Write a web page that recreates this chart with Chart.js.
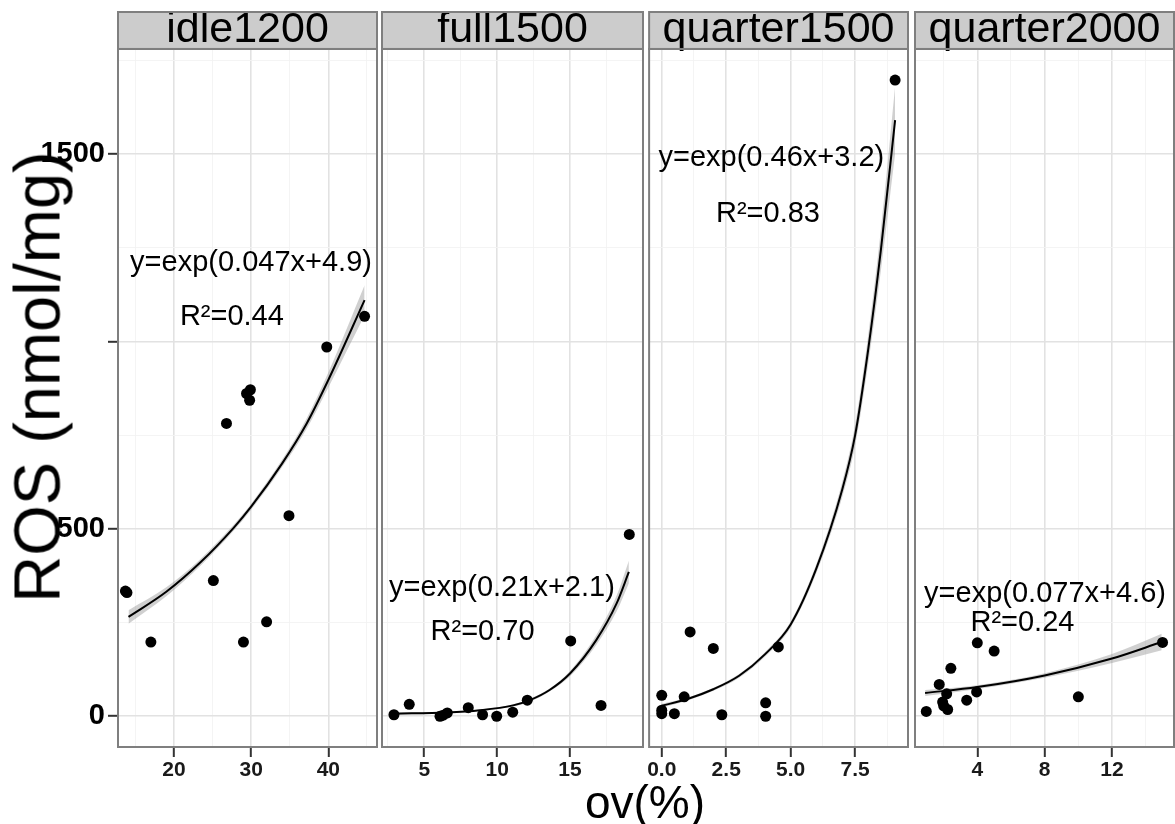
<!DOCTYPE html>
<html lang="en">
<head>
<meta charset="UTF-8" />
<title>ROS vs ov(%)</title>
<script src="https://cdn.jsdelivr.net/npm/chart.js"></script>
<style>
  body {
    margin: 0;
    background: #fff;
    font-family: 'Liberation Sans', Arial, sans-serif;
  }

  #wrap {
    position: relative;
    width: 1175px;
    height: 824px;
    overflow: hidden;
    background: #fff;
  }

  #wrap canvas {
    position: absolute;
    top: 0;
  }

  .axis-title {
    position: absolute;
    white-space: nowrap;
    line-height: 1;
    color: #000;
    transform: translate(-50%, -50%);
  }

  #ytitle {
    left: 37px;
    top: 377px;
    font-size: 65px;
    transform: translate(-50%, -50%) rotate(-90deg);
  }

  #xtitle {
    left: 645px;
    top: 802px;
    font-size: 46px;
  }
</style>
</head>
<body>
<div id="wrap">
  <canvas id="c0"></canvas>
  <canvas id="c1"></canvas>
  <canvas id="c2"></canvas>
  <canvas id="c3"></canvas>
  <div id="ytitle" class="axis-title">ROS (nmol/mg)</div>
  <div id="xtitle" class="axis-title">ov(%)</div>
</div>

<script>
  // ---- data ----
  const panelNames = ['idle1200', 'full1500', 'quarter1500', 'quarter2000'];
  const equations = ['y=exp(0.047x+4.9)', 'y=exp(0.21x+2.1)', 'y=exp(0.46x+3.2)', 'y=exp(0.077x+4.6)'];
  const rSquared = ['R²=0.44', 'R²=0.70', 'R²=0.83', 'R²=0.24'];

  const yTicks = [0, 500, 1000, 1500];
  const yTickLabels = ['0', '500', '', '1500'];

  // idle1200
  const idleX = [13.9, 13.7, 17.0, 25.1, 26.8, 29.0, 29.4, 29.9, 29.8, 32.0, 34.9, 39.8, 44.7];
  const idleY = [330, 334, 198, 362, 781, 198, 861, 871, 843, 252, 535, 985, 1067];
  const idleFitX = [14.1, 19.0, 23.4, 27.7, 30.0, 34.0, 37.2, 40.0, 44.7];
  const idleFitY = [265, 332, 410, 502, 559, 674, 781, 897, 1110];
  const idleLow = [247, 320, 401, 494, 551, 664, 767, 877, 1070];
  const idleHigh = [283, 344, 419, 510, 567, 684, 795, 917, 1150];
  const idleTicks = [20, 30, 40];
  const idleTickLabels = ['20', '30', '40'];

  // full1500
  const fullX = [2.92, 3.97, 6.08, 6.3, 6.58, 8.02, 9.0, 9.97, 11.07, 12.07, 15.05, 17.13, 19.07];
  const fullY = [4, 32, 0, 3, 9, 23, 4, 0, 11, 43, 201, 29, 485];
  const fullFitX = [2.92, 6.54, 8.82, 11.1, 12.25, 13.6, 15.0, 16.8, 18.2, 19.04];
  const fullFitY = [7, 10, 16, 29, 43, 70, 114, 203, 301, 385];
  const fullLow = [4, 8, 14, 26, 39, 66, 107, 190, 280, 355];
  const fullHigh = [10, 12, 18, 32, 47, 74, 121, 216, 322, 415];
  const fullTicks = [5, 10, 15];
  const fullTickLabels = ['5', '10', '15'];

  // quarter1500
  const q15X = [0, 0, 0, 0.49, 0.87, 1.1, 2.0, 2.33, 4.03, 4.03, 4.52, 9.05];
  const q15Y = [56, 16, 7, 7, 52, 225, 181, 4, 36, 0, 185, 1697];
  const q15FitX = [0, 1, 2, 3, 4, 5, 6, 7, 7.5, 8, 8.5, 9.05];
  const q15FitY = [28, 46, 72, 108, 165, 245, 395, 605, 750, 975, 1245, 1590];
  const q15Low = [23, 42, 68, 103, 159, 237, 383, 585, 722, 937, 1190, 1500];
  const q15High = [33, 50, 76, 113, 171, 253, 407, 625, 778, 1013, 1300, 1680];
  const q15Ticks = [0, 2.5, 5, 7.5];
  const q15TickLabels = ['0.0', '2.5', '5.0', '7.5'];

  // quarter2000
  const q20X = [0.97, 1.74, 1.94, 2.0, 2.18, 2.24, 2.43, 3.37, 3.96, 4.0, 5.0, 10.0, 15.0];
  const q20Y = [13, 85, 38, 28, 60, 18, 128, 43, 65, 196, 174, 52, 197];
  const q20FitX = [0.9, 4, 8, 12, 14.95];
  const q20FitY = [62, 78, 109, 154, 198];
  const q20Low = [54, 73, 103, 142, 176];
  const q20High = [70, 83, 115, 166, 220];
  const q20Ticks = [4, 8, 12];
  const q20TickLabels = ['4', '8', '12'];

  // ---- panel geometry (pixels) and axis ranges ----
  const PLOT_TOP_PAD = 12, PLOT_BOTTOM = 747, H = 824;
  const panels = [
    { left: 118, right: 377, xMin: 12.74, xMax: 46.31, eqAt: [29.98, 1209], r2At: [27.5, 1065],
      x: idleX, y: idleY, fx: idleFitX, fy: idleFitY, lo: idleLow, hi: idleHigh, ticks: idleTicks, labels: idleTickLabels },
    { left: 382, right: 643, xMin: 2.10, xMax: 20.01, eqAt: [10.33, 342], r2At: [9.0, 225],
      x: fullX, y: fullY, fx: fullFitX, fy: fullFitY, lo: fullLow, hi: fullHigh, ticks: fullTicks, labels: fullTickLabels },
    { left: 648, right: 908, xMin: -0.49, xMax: 9.55, eqAt: [4.25, 1488], r2At: [4.12, 1340],
      x: q15X, y: q15Y, fx: q15FitX, fy: q15FitY, lo: q15Low, hi: q15High, ticks: q15Ticks, labels: q15TickLabels },
    { left: 915, right: 1174, xMin: 0.30, xMax: 15.68, eqAt: [8.02, 326], r2At: [6.68, 250],
      x: q20X, y: q20Y, fx: q20FitX, fy: q20FitY, lo: q20Low, hi: q20High, ticks: q20Ticks, labels: q20TickLabels }
  ];

  const FONT = "'Liberation Sans', Arial, sans-serif";
  const pts = (xs, ys) => xs.map((v, i) => ({ x: v, y: ys[i] }));
  const isMajor = (v, majors) => majors.some(m => Math.abs(m - v) < 1e-6);

  // majors plus the half-way minor lines, kept inside the range
  function gridTicks(majors, min, max) {
    const step = majors[1] - majors[0];
    const out = [];
    for (let v = majors[0] - step; v <= majors[majors.length - 1] + step + 1e-9; v += step / 2) {
      if (v >= min - 1e-9 && v <= max + 1e-9) out.push({ value: +v.toFixed(4) });
    }
    return out;
  }

  function gridStyle(majors) {
    return {
      color: c => isMajor(c.tick.value, majors) ? '#e2e2e2' : '#f3f3f3',
      lineWidth: c => isMajor(c.tick.value, majors) ? 1.6 : 0.9,
      tickColor: c => isMajor(c.tick.value, majors) ? '#333' : 'rgba(0,0,0,0)',
      tickWidth: 2,
      tickLength: 10
    };
  }

  const facetFrame = {
    id: 'facetFrame',
    beforeDraw(chart) {
      const { ctx, chartArea: a } = chart;
      const t = chart.titleBlock;
      ctx.save();
      ctx.fillStyle = '#cccccc';
      ctx.fillRect(a.left, t.top, a.right - a.left, t.height);
      ctx.restore();
    },
    afterDraw(chart) {
      const { ctx, chartArea: a } = chart;
      const t = chart.titleBlock;
      ctx.save();
      ctx.strokeStyle = '#7f7f7f';
      ctx.lineWidth = 2;
      ctx.strokeRect(a.left, t.top, a.right - a.left, t.height);
      ctx.strokeRect(a.left, a.top, a.right - a.left, a.bottom - a.top);
      ctx.restore();
    }
  };

  const noteText = {
    id: 'noteText',
    afterDatasetsDraw(chart, args, opts) {
      const { ctx, scales: { x, y } } = chart;
      ctx.save();
      ctx.font = '29px ' + FONT;
      ctx.fillStyle = '#000';
      ctx.textAlign = 'center';
      ctx.textBaseline = 'middle';
      opts.items.forEach(it => {
        ctx.fillText(it.text, x.getPixelForValue(it.at[0]), y.getPixelForValue(it.at[1]));
      });
      ctx.restore();
    }
  };

  panels.forEach((p, i) => {
    const canvas = document.getElementById('c' + i);
    const first = i === 0;
    const cLeft = first ? 0 : p.left - 2;
    const cRight = p.right + 2;
    canvas.width = cRight - cLeft;
    canvas.height = H;
    canvas.style.left = cLeft + 'px';

    new Chart(canvas.getContext('2d'), {
      type: 'scatter',
      data: {
        datasets: [
          { data: pts(p.fx, p.lo), showLine: true, borderWidth: 0, pointRadius: 0, fill: false,
            cubicInterpolationMode: 'monotone', order: 3 },
          { data: pts(p.fx, p.hi), showLine: true, borderWidth: 0, pointRadius: 0, fill: '-1',
            backgroundColor: 'rgba(150,150,150,0.45)', cubicInterpolationMode: 'monotone', order: 2 },
          { data: pts(p.fx, p.fy), showLine: true, borderColor: '#000', borderWidth: 2, pointRadius: 0,
            cubicInterpolationMode: 'monotone', order: 1 },
          { data: pts(p.x, p.y), pointRadius: 5.5, pointBackgroundColor: '#000', pointBorderWidth: 0, order: 0 }
        ]
      },
      options: {
        responsive: false,
        animation: false,
        devicePixelRatio: 1,
        layout: { autoPadding: false, padding: { top: PLOT_TOP_PAD, left: first ? 0 : 2, right: 2, bottom: 0 } },
        plugins: {
          legend: { display: false },
          tooltip: { enabled: false },
          title: {
            display: true,
            text: panelNames[i],
            fullSize: false,
            color: '#000',
            padding: 0,
            font: { family: FONT, size: 43, weight: 'normal', lineHeight: 0.86 }
          },
          noteText: { items: [{ text: equations[i], at: p.eqAt }, { text: rSquared[i], at: p.r2At }] }
        },
        scales: {
          x: {
            type: 'linear',
            min: p.xMin,
            max: p.xMax,
            afterBuildTicks: s => { s.ticks = gridTicks(p.ticks, s.min, s.max); },
            afterFit: s => { s.height = H - PLOT_BOTTOM; },
            border: { display: false },
            grid: gridStyle(p.ticks),
            ticks: {
              autoSkip: false,
              maxRotation: 0,
              padding: 1,
              color: '#1a1a1a',
              font: { family: FONT, size: 21, weight: 'bold' },
              callback: v => {
                const k = p.ticks.findIndex(m => Math.abs(m - v) < 1e-6);
                return k < 0 ? '' : p.labels[k];
              }
            }
          },
          y: {
            min: -82,
            max: 1780,
            afterBuildTicks: s => { s.ticks = gridTicks(yTicks, s.min, s.max); },
            afterFit: s => { s.width = first ? 118 : 0; },
            border: { display: false },
            grid: Object.assign(gridStyle(yTicks), { drawTicks: first }),
            ticks: {
              display: first,
              autoSkip: false,
              padding: 3,
              color: '#000',
              font: { family: FONT, size: 29, weight: 'bold' },
              callback: v => {
                const k = yTicks.findIndex(m => Math.abs(m - v) < 1e-6);
                return k < 0 ? '' : yTickLabels[k];
              }
            }
          }
        }
      },
      plugins: [facetFrame, noteText]
    });
  });
</script>
</body>
</html>
